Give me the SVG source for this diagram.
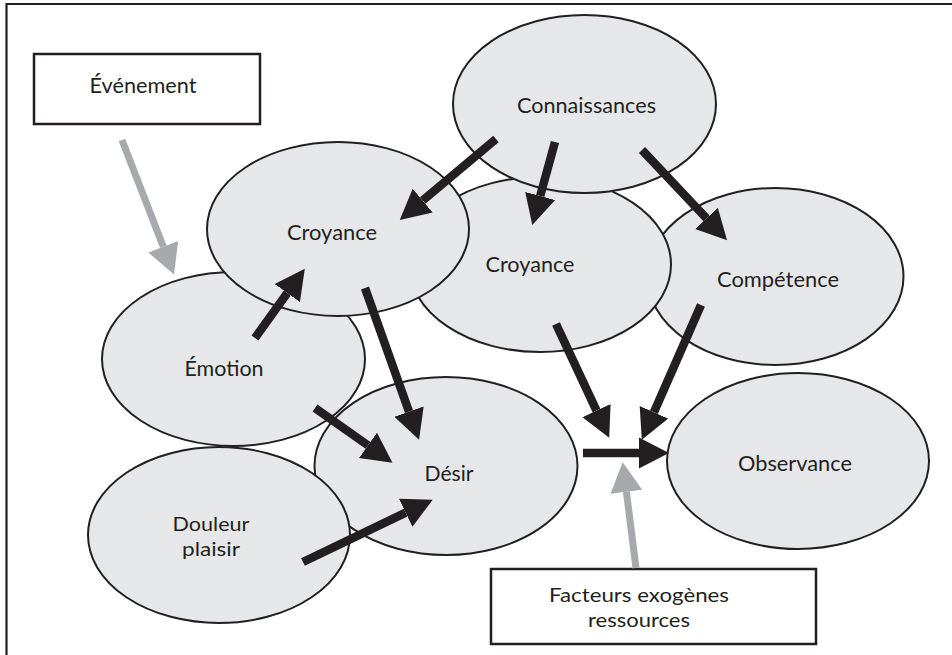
<svg xmlns="http://www.w3.org/2000/svg" width="952" height="655" viewBox="0 0 952 655">
<defs>
<style>
.frame{fill:none;stroke:#231f20;stroke-width:2.2}
.box{fill:#ffffff;stroke:#231f20;stroke-width:2.5}
.ell{fill:#e6e7e8;stroke:#231f20;stroke-width:2}
.lbl{font-family:Lato,"Open Sans","Liberation Sans",sans-serif;font-size:22px;fill:#231f20;text-anchor:middle}
.sm{font-size:20px}
.blk{stroke:#231f20;stroke-width:8.5;fill:none}
.gry{stroke:#a7a9ac;stroke-width:7;fill:none}
</style>
<marker id="hb" markerUnits="userSpaceOnUse" markerWidth="30" markerHeight="32" refX="0" refY="14" orient="auto" viewBox="0 0 27 28">
<path d="M0,0 L27,14 L0,28 Z" fill="#231f20"/>
</marker>
<marker id="hg" markerUnits="userSpaceOnUse" markerWidth="30" markerHeight="32" refX="0" refY="14" orient="auto" viewBox="0 0 26 28">
<path d="M0,0 L26,14 L0,28 Z" fill="#a7a9ac"/>
</marker>
</defs>
<rect width="952" height="655" fill="#ffffff"/>
<path class="frame" d="M6.5,655 V4 H952"/>

<g id="evenement">
<rect class="box" x="34" y="54" width="226" height="70"/>
<text class="lbl" x="143" y="93" textLength="107" lengthAdjust="spacingAndGlyphs">Événement</text>
</g>

<g id="competence">
<ellipse class="ell" cx="775.5" cy="276.5" rx="128" ry="88.5"/>
<text class="lbl" x="778" y="287" textLength="122" lengthAdjust="spacingAndGlyphs">Compétence</text>
</g>
<g id="croyance2">
<ellipse class="ell" cx="540" cy="264.5" rx="131" ry="87.5"/>
<text class="lbl" x="530" y="272" textLength="89" lengthAdjust="spacingAndGlyphs">Croyance</text>
</g>
<g id="connaissances">
<ellipse class="ell" cx="584.5" cy="104" rx="131.5" ry="89"/>
<text class="lbl" x="586.5" y="113" textLength="139" lengthAdjust="spacingAndGlyphs">Connaissances</text>
</g>
<g id="emotion">
<ellipse class="ell" cx="233.5" cy="359" rx="131.5" ry="87"/>
<text class="lbl" x="224" y="376" textLength="79" lengthAdjust="spacingAndGlyphs">Émotion</text>
</g>
<g id="croyance1">
<ellipse class="ell" cx="338" cy="229" rx="131" ry="87"/>
<text class="lbl" x="332" y="240" textLength="90" lengthAdjust="spacingAndGlyphs">Croyance</text>
</g>
<g id="desir">
<ellipse class="ell" cx="446" cy="466" rx="131.5" ry="89"/>
<text class="lbl" x="449" y="481" textLength="49" lengthAdjust="spacingAndGlyphs">Désir</text>
</g>
<g id="douleur">
<ellipse class="ell" cx="219" cy="535" rx="131" ry="88"/>
<text class="lbl sm" x="211" y="531" textLength="77" lengthAdjust="spacingAndGlyphs">Douleur</text>
<text class="lbl sm" x="211" y="556" textLength="58" lengthAdjust="spacingAndGlyphs">plaisir</text>
</g>
<g id="observance">
<ellipse class="ell" cx="798" cy="461" rx="131" ry="88"/>
<text class="lbl" x="795" y="471" textLength="114" lengthAdjust="spacingAndGlyphs">Observance</text>
</g>

<g id="facteurs">
<rect class="box" x="491" y="569" width="325" height="75"/>
<text class="lbl sm" x="639" y="602" textLength="180" lengthAdjust="spacingAndGlyphs">Facteurs exogènes</text>
<text class="lbl sm" x="639" y="627" textLength="102" lengthAdjust="spacingAndGlyphs">ressources</text>
</g>

<g id="connectors">
<line class="blk" x1="496" y1="139" x2="422.7" y2="200.6" marker-end="url(#hb)"/>
<line class="blk" x1="555" y1="142" x2="540.2" y2="196" marker-end="url(#hb)"/>
<line class="blk" x1="642" y1="150" x2="706.5" y2="218.4" marker-end="url(#hb)"/>
<line class="blk" x1="255" y1="338" x2="287.3" y2="293" marker-end="url(#hb)"/>
<line class="blk" x1="365" y1="288" x2="409" y2="411.6" marker-end="url(#hb)"/>
<line class="blk" x1="315" y1="408" x2="368" y2="445.4" marker-end="url(#hb)"/>
<line class="blk" x1="303" y1="562" x2="405.7" y2="512.7" marker-end="url(#hb)"/>
<line class="blk" x1="556" y1="324" x2="596.5" y2="410.6" marker-end="url(#hb)"/>
<line class="blk" x1="701" y1="305" x2="653.9" y2="412.3" marker-end="url(#hb)"/>
<line class="blk" x1="583" y1="453" x2="639" y2="453" marker-end="url(#hb)"/>
<line class="gry" x1="122" y1="140" x2="163.3" y2="246.8" marker-end="url(#hg)"/>
<line class="gry" x1="636" y1="568" x2="626.4" y2="491.8" marker-end="url(#hg)"/>
</g>
</svg>
